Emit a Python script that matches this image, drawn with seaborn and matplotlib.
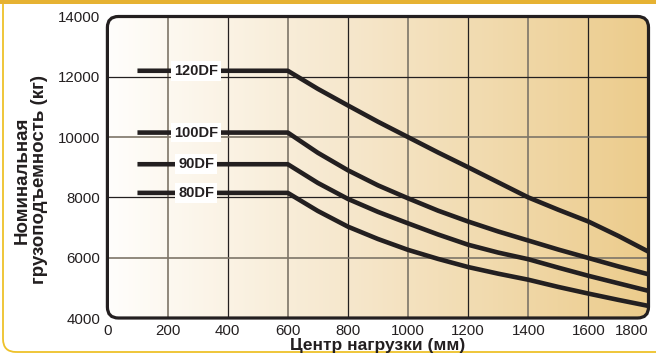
import numpy as np
import pandas as pd
import matplotlib
matplotlib.use("Agg")
import matplotlib.pyplot as plt
import seaborn as sns
from matplotlib.patches import FancyBboxPatch, Rectangle
from matplotlib.colors import LinearSegmentedColormap

# Load center (mm) and rated capacity (kg)
load_center = [100, 600, 700, 800, 900, 1000, 1100, 1200, 1300, 1400, 1500, 1600, 1700, 1800]
cap_120df = [12200, 12200, 11600, 11050, 10510, 10000, 9490, 9000, 8500, 8000, 7590, 7200, 6720, 6200]
cap_100df = [10150, 10150, 9480, 8900, 8400, 7970, 7560, 7200, 6870, 6570, 6270, 5990, 5710, 5450]
cap_90df = [9100, 9100, 8480, 7950, 7520, 7140, 6770, 6430, 6170, 5950, 5670, 5400, 5150, 4900]
cap_80df = [8150, 8150, 7550, 7030, 6620, 6260, 5960, 5690, 5470, 5270, 5030, 4810, 4600, 4400]
models = ["120DF", "100DF", "90DF", "80DF"]
label_x = 295

x_ticks = [0, 200, 400, 600, 800, 1000, 1200, 1400, 1600, 1800]
y_ticks = [4000, 6000, 8000, 10000, 12000, 14000]

x_title = "Центр нагрузки (мм)"
y_title = "Номинальная\nгрузоподъемность (кг)"

DARK = "#231F20"
GREY = "#7D7568"

df = pd.DataFrame({
    "center": load_center * 4,
    "capacity": cap_120df + cap_100df + cap_90df + cap_80df,
    "model": [m for m in models for _ in load_center],
})

sns.set_theme(style="white")
plt.rcParams["font.family"] = ["Liberation Sans", "DejaVu Sans"]

W, H = 656, 354
fig = plt.figure(figsize=(W / 100, H / 100), dpi=100)
fig.patch.set_facecolor("white")

# gold frame of the page
fig.patches.append(FancyBboxPatch((3 / W, 2 / H), 1.2, 1.2,
                                  boxstyle="round,pad=0,rounding_size=0.02",
                                  mutation_aspect=W / H,
                                  transform=fig.transFigure, facecolor="none",
                                  edgecolor="#EEC12A", lw=1.3))
fig.patches.append(Rectangle((0, 1 - 4 / H), 1, 4 / H, transform=fig.transFigure,
                             facecolor="#E6B232", edgecolor="none"))

ax_l, ax_r, ax_t, ax_b = 107.4, 648.5, 16.5, 318
ax = fig.add_axes([ax_l / W, 1 - ax_b / H, (ax_r - ax_l) / W, (ax_b - ax_t) / H])
ax.set_xlim(0, 1795)
ax.set_ylim(4000, 14000)

aw, ah = ax_r - ax_l, ax_b - ax_t
frame = FancyBboxPatch((0, 0), 1, 1, boxstyle=f"round,pad=0,rounding_size={11 / aw}",
                       mutation_aspect=aw / ah, transform=ax.transAxes,
                       facecolor="none", edgecolor=DARK, lw=2.3, zorder=10,
                       clip_on=False)
ax.add_patch(frame)

cmap = LinearSegmentedColormap.from_list(
    "bg", [(0, "#FFFEFC"), (0.45, "#F6E7CC"), (1, "#ECCC8C")])
grad = ax.imshow(np.linspace(0, 1, 256).reshape(1, -1), extent=[0, 1795, 4000, 14000],
                 aspect="auto", cmap=cmap, zorder=0, interpolation="bilinear")
grad.set_clip_path(frame)

for i, xv in enumerate(x_ticks[1:-1]):
    gl = ax.axvline(xv, color=GREY if i % 2 == 0 else DARK,
                    lw=1.2 if i % 2 == 0 else 0.9, zorder=1)
    gl.set_clip_path(frame)
for i, yv in enumerate(y_ticks[1:-1]):
    gl = ax.axhline(yv, color=GREY if i % 2 == 0 else DARK,
                    lw=1.2 if i % 2 == 0 else 0.9, zorder=1)
    gl.set_clip_path(frame)

sns.lineplot(data=df, x="center", y="capacity", units="model", estimator=None,
             color=DARK, lw=3.3, ax=ax, legend=False, zorder=3)
for ln in ax.lines[-4:]:
    ln.set_solid_capstyle("butt")
    ln.set_solid_joinstyle("round")
    ln.set_clip_path(frame)

flat_levels = [cap_120df[0], cap_100df[0], cap_90df[0], cap_80df[0]]
for name, yv in zip(models, flat_levels):
    ax.text(label_x, yv, name, ha="center", va="center", fontsize=10.5,
            fontweight="bold", color=DARK, zorder=5,
            bbox=dict(boxstyle="square,pad=0.2", facecolor="white", edgecolor="none"))

for s in ax.spines.values():
    s.set_visible(False)
ax.grid(False)
ax.set_xticks(x_ticks)
ax.set_yticks(y_ticks)
ax.set_xticklabels([str(v) for v in x_ticks])
ax.set_yticklabels([str(v) for v in y_ticks])
ax.tick_params(axis="x", length=0, pad=4, labelsize=10.8, labelcolor=DARK)
ax.tick_params(axis="y", length=0, pad=5, labelsize=10.8, labelcolor=DARK)
ax.get_xticklabels()[-1].set_horizontalalignment("right")
ax.set_xlabel("")
ax.set_ylabel("")

fig.text((ax_l + ax_r) / 2 / W, 1 - 353 / H, x_title, ha="center", va="bottom",
         fontsize=12.5, fontweight="bold", color=DARK)
fig.text(31 / W, 1 - 180 / H, y_title, ha="center", va="center", rotation=90,
         fontsize=13.5, fontweight="bold", color=DARK, linespacing=1.0,
         multialignment="center")

fig.savefig("out.png", dpi=100)
